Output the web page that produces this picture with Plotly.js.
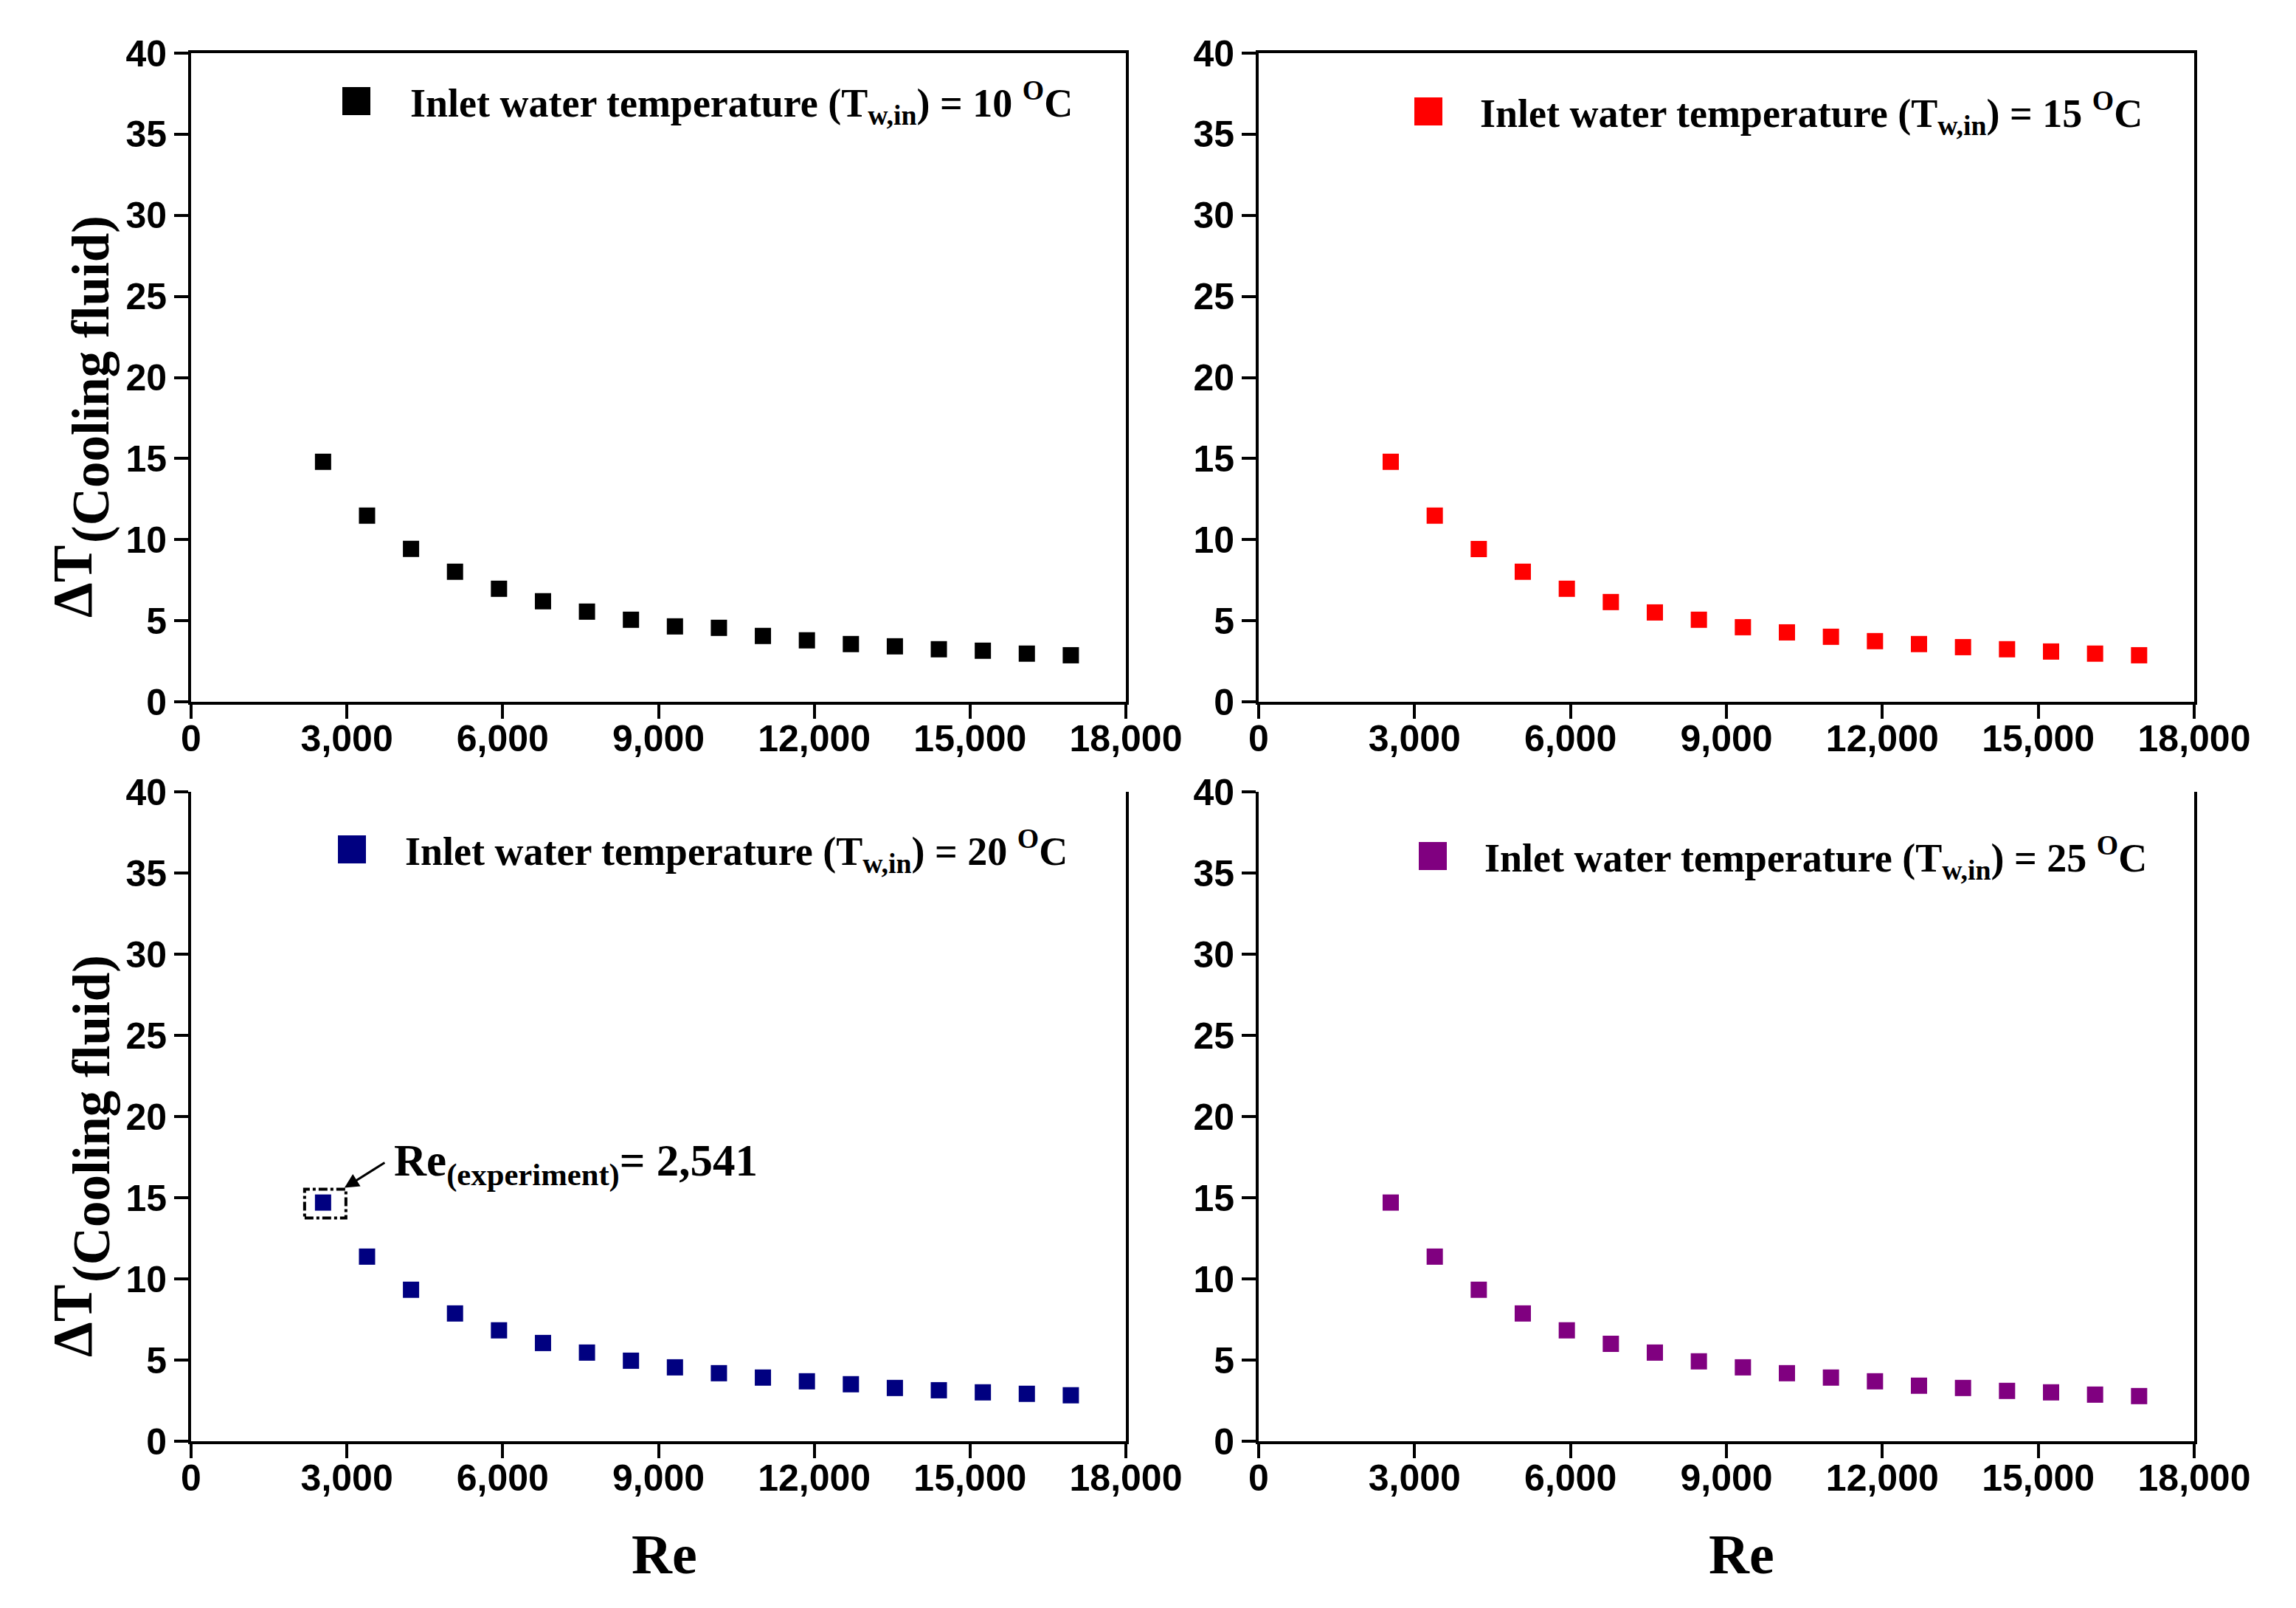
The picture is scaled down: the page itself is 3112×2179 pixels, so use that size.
<!DOCTYPE html>
<html lang="en">
<head>
    <meta charset="UTF-8">
    <title>Cooling fluid temperature rise vs Re</title>
    <script src="https://cdn.plot.ly/plotly-3.0.1.min.js"></script>
    <style>
        body { margin: 0; background: #fff; }
    </style>
</head>
<body>
<div id="plot"></div>
</body>
<script>
    // Reynolds numbers (same for every panel)
    let re = [2541, 3388, 4235, 5082, 5929, 6776, 7623, 8470, 9317, 10164,
        11011, 11858, 12705, 13552, 14399, 15246, 16093, 16940]

    // delta T of the cooling fluid, one array per inlet water temperature
    let dT10 = [14.80, 11.48, 9.43, 8.02, 6.97, 6.20, 5.56, 5.06, 4.65, 4.56,
        4.06, 3.79, 3.56, 3.42, 3.24, 3.15, 2.97, 2.87]
    let dT15 = [14.80, 11.48, 9.42, 8.02, 6.97, 6.15, 5.51, 5.06, 4.60, 4.28,
        4.01, 3.74, 3.56, 3.37, 3.24, 3.10, 2.97, 2.87]
    let dT20 = [14.70, 11.37, 9.33, 7.87, 6.83, 6.05, 5.46, 4.96, 4.55, 4.19,
        3.92, 3.69, 3.51, 3.28, 3.14, 3.01, 2.92, 2.83]
    let dT25 = [14.70, 11.37, 9.33, 7.87, 6.83, 6.00, 5.46, 4.92, 4.55, 4.19,
        3.92, 3.69, 3.42, 3.28, 3.10, 3.01, 2.87, 2.78]

    let inletTemps = ["10", "15", "20", "25"]
    let colors = ["#000000", "#ff0000", "#000080", "#800080"]

    let reTicks = [0, 3000, 6000, 9000, 12000, 15000, 18000]
    let dtTicks = [0, 5, 10, 15, 20, 25, 30, 35, 40]

    let expLabel = "2,541"

    const W = 3112, H = 2179
    const px = x => x / W
    const py = y => 1 - y / H

    const serif = "Liberation Serif, Times New Roman, serif"
    const sans = "Liberation Sans, Arial, sans-serif"

    let xDom = [[px(259), px(1526)], [px(1706), px(2974)]]
    let yDom = [[py(951), py(72)], [py(1953), py(1073)]]

    function xAxis(col, row, anchor) {
        return {
            domain: xDom[col], anchor: anchor, range: [0, 18000],
            tickvals: reTicks, tickformat: ",d",
            showline: true, linecolor: "#000", linewidth: 4,
            mirror: row === 0,
            ticks: "outside", ticklen: 19, tickwidth: 4, tickcolor: "#000",
            ticklabelstandoff: -16,
            tickfont: {family: sans, size: 50, weight: "bold", color: "#000"},
            showgrid: false, zeroline: false
        }
    }

    function yAxis(row, anchor) {
        return {
            domain: yDom[row], anchor: anchor, range: [0, 40],
            tickvals: dtTicks,
            showline: true, linecolor: "#000", linewidth: 4, mirror: true,
            ticks: "outside", ticklen: 19, tickwidth: 4, tickcolor: "#000",
            tickfont: {family: sans, size: 50, weight: "bold", color: "#000"},
            showgrid: false, zeroline: false
        }
    }

    let series = [dT10, dT15, dT20, dT25]
    let axisIds = [["x", "y"], ["x2", "y2"], ["x3", "y3"], ["x4", "y4"]]

    let data = series.map((ys, i) => ({
        x: re, y: ys, xaxis: axisIds[i][0], yaxis: axisIds[i][1],
        type: "scatter", mode: "markers",
        name: "Inlet water temperature (T<sub>w,in</sub>) = " + inletTemps[i] + " <sup>O</sup>C",
        marker: {symbol: "square", size: 22, color: colors[i]},
        showlegend: false
    }))

    // legend swatch centres and text starts, in picture pixels
    let legendSwatch = [[483, 137], [1936, 151], [477, 1151], [1942, 1160]]
    let legendTextX = [554, 2004, 547, 2010]

    let shapes = []
    let annotations = []

    data.forEach((tr, i) => {
        let c = legendSwatch[i]
        shapes.push({
            type: "rect", xref: "paper", yref: "paper",
            x0: px(c[0] - 19), x1: px(c[0] + 19), y0: py(c[1] + 19), y1: py(c[1] - 19),
            fillcolor: colors[i], line: {width: 0}
        })
        annotations.push({
            xref: "paper", yref: "paper", x: px(legendTextX[i]), y: py(c[1] + 2),
            xanchor: "left", yanchor: "middle", showarrow: false,
            text: tr.name,
            font: {family: serif, size: 54, weight: "bold", color: "#000"}
        })
    })

    // y titles: "ΔT" with "(Cooling fluid)" dropped a little, like a subscript
    ;[0, 1002].forEach(dy => {
        annotations.push({
            xref: "paper", yref: "paper", x: px(98), y: py(788 + dy),
            xanchor: "center", yanchor: "middle", textangle: -90, showarrow: false,
            text: "ΔT",
            font: {family: serif, size: 76, weight: "bold", color: "#000"}
        })
        annotations.push({
            xref: "paper", yref: "paper", x: px(124), y: py(514 + dy),
            xanchor: "center", yanchor: "middle", textangle: -90, showarrow: false,
            text: "(Cooling fluid)",
            font: {family: serif, size: 71, weight: "bold", color: "#000"}
        })
    })

    // x titles
    ;[900, 2360].forEach(xc => annotations.push({
        xref: "paper", yref: "paper", x: px(xc), y: py(2106),
        xanchor: "center", yanchor: "middle", showarrow: false,
        text: "Re",
        font: {family: serif, size: 76, weight: "bold", color: "#000"}
    }))

    // experiment marker callout on the 20 oC panel
    shapes.push({
        type: "rect", xref: "x3", yref: "y3",
        xsizemode: "pixel", ysizemode: "pixel", xanchor: re[0], yanchor: dT20[0],
        x0: -25, x1: 31, y0: -21, y1: 18,
        line: {color: "#000", width: 4, dash: "dashdot"}
    })
    annotations.push({
        xref: "x3", yref: "y3", x: re[0], y: dT20[0], xshift: 29, yshift: 20,
        text: "", showarrow: true, ax: 56, ay: -35,
        arrowhead: 2, arrowsize: 1.3, arrowwidth: 3, arrowcolor: "#000"
    })
    annotations.push({
        xref: "x3", yref: "y3", x: re[0], y: dT20[0], xshift: 94, yshift: 52,
        xanchor: "left", yanchor: "middle", showarrow: false,
        text: "Re<sub>(experiment)</sub>= " + expLabel,
        font: {family: serif, size: 61, weight: "bold", color: "#000"}
    })

    let layout = {
        width: W, height: H,
        margin: {l: 0, r: 0, t: 0, b: 0},
        paper_bgcolor: "#fff", plot_bgcolor: "#fff",
        xaxis: xAxis(0, 0, "y"), yaxis: yAxis(0, "x"),
        xaxis2: xAxis(1, 0, "y2"), yaxis2: yAxis(0, "x2"),
        xaxis3: xAxis(0, 1, "y3"), yaxis3: yAxis(1, "x3"),
        xaxis4: xAxis(1, 1, "y4"), yaxis4: yAxis(1, "x4"),
        shapes: shapes,
        annotations: annotations
    }

    Plotly.newPlot("plot", data, layout, {displayModeBar: false, staticPlot: true})
</script>
</html>
